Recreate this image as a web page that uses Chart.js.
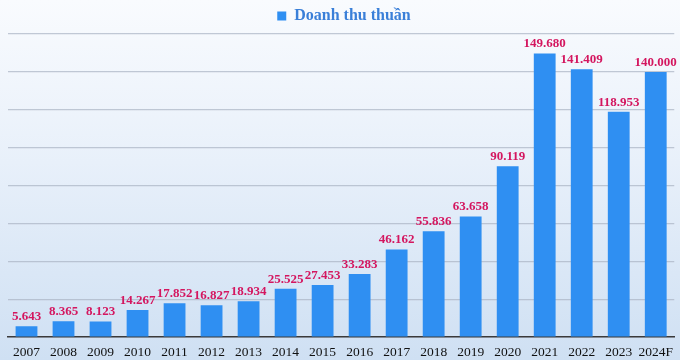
<!DOCTYPE html>
<html><head><meta charset="utf-8">
<script src="https://cdn.jsdelivr.net/npm/chart.js@4/dist/chart.umd.min.js"></script>
<style>
html,body{margin:0;padding:0;}
body{width:680px;height:360px;background:linear-gradient(to bottom,#f9fbfe 0%,#e8f0fa 45%,#cfe0f3 100%);}
#wrap{width:680px;height:360px;position:relative;}
</style></head><body>
<div id="wrap"><canvas id="c" width="680" height="360"></canvas></div>
<script>
const categories = ["2007","2008","2009","2010","2011","2012","2013","2014","2015","2016","2017","2018","2019","2020","2021","2022","2023","2024F"];
const revenue = [5643,8365,8123,14267,17852,16827,18934,25525,27453,33283,46162,55836,63658,90119,149680,141409,118953,140000];
const seriesName = "Doanh thu thuần";

function fmt(v){ return v.toString().replace(/\B(?=(\d{3})+(?!\d))/g, "."); }

const labelPlugin = {
  id: 'vlabels',
  afterDatasetsDraw(chart){
    const ctx = chart.ctx;
    const meta = chart.getDatasetMeta(0);
    ctx.save();
    ctx.font = 'bold 13px "Liberation Serif", "Times New Roman", serif';
    ctx.fillStyle = '#d4165f';
    ctx.textAlign = 'center';
    ctx.textBaseline = 'bottom';
    meta.data.forEach((bar,i)=>{
      ctx.fillText(fmt(chart.data.datasets[0].data[i]), bar.x, bar.y - 3);
    });
    ctx.restore();
  }
};

new Chart(document.getElementById('c'), {
  type: 'bar',
  data: {
    labels: categories,
    datasets: [{
      label: seriesName,
      data: revenue,
      backgroundColor: '#2f8ff2',
      borderWidth: 0,
      categoryPercentage: 0.62,
      barPercentage: 0.95
    }]
  },
  options: {
    responsive: false,
    animation: false,
    layout: { padding: { left: 8, right: 0, top: 7, bottom: 0 } },
    plugins: {
      legend: {
        display: true,
        position: 'top',
        labels: {
          boxWidth: 9, boxHeight: 9,
          color: '#3a7fd8',
          font: { family: '"Liberation Serif", "Times New Roman", serif', size: 16, weight: 'bold', lineHeight: 1.0 },
          padding: 1
        }
      },
      tooltip: { enabled: false }
    },
    scales: {
      x: {
        afterFit(scale){ scale.height = 23; },
        grid: { display: false, drawTicks: false, tickLength: 0 },
        border: { display: true, color: '#3a3a3a', width: 1.5 },
        ticks: {
          color: '#111',
          font: { family: '"Liberation Serif", "Times New Roman", serif', size: 13.5 },
          padding: 7,
          maxRotation: 0, autoSkip: false
        }
      },
      y: {
        min: 0, max: 160000,
        ticks: { display: false, stepSize: 20000 },
        grid: { color: 'rgba(170,180,195,0.7)', lineWidth: 1.2, drawTicks: false },
        border: { display: false }
      }
    }
  },
  plugins: [labelPlugin]
});
</script>
</body></html>
